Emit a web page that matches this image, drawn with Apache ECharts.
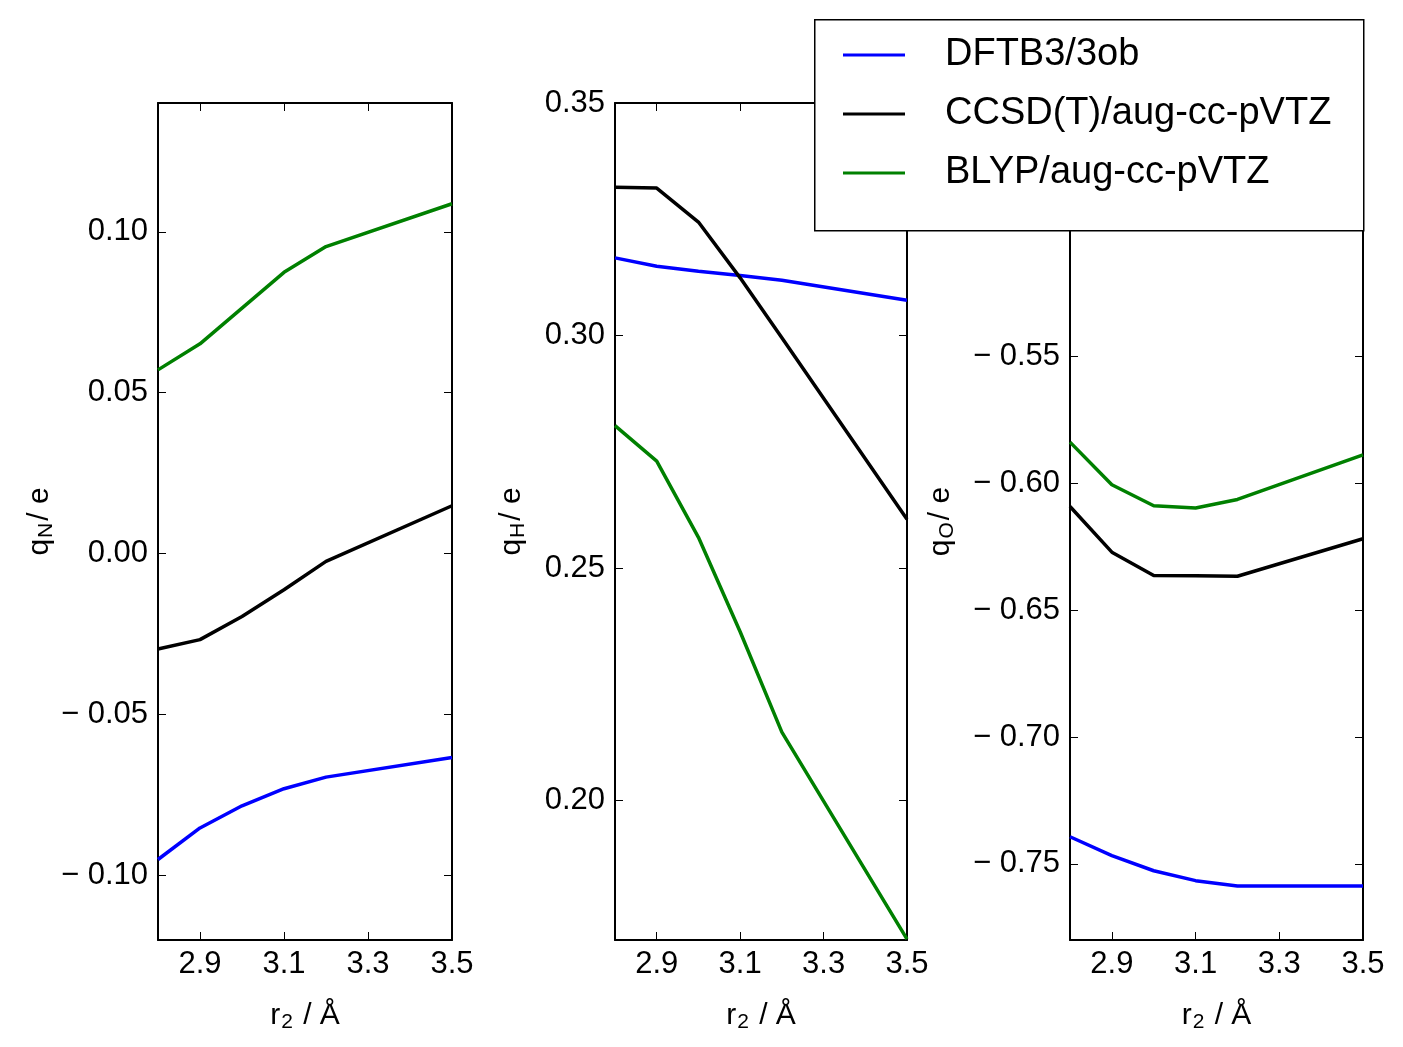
<!DOCTYPE html>
<html>
<head>
<meta charset="utf-8">
<script src="https://cdn.jsdelivr.net/npm/echarts@6/dist/echarts.min.js"></script>
<style>
  html, body { margin: 0; padding: 0; background: #fff; }
  #container { width: 1403px; height: 1047px; }
</style>
</head>
<body>
<div id="container"></div>
<script>
// r2 distance (Angstrom)
var r2 = [2.8, 2.9, 3.0, 3.1, 3.2, 3.5];

// charges on N
var qN_dftb = [-0.0950, -0.0852, -0.0783, -0.0730, -0.0694, -0.0633];
var qN_ccsd = [-0.0296, -0.0267, -0.0195, -0.0112, -0.0024, 0.0149];
var qN_blyp = [0.0571, 0.0652, 0.0763, 0.0874, 0.0954, 0.1087];

// charges on H
var qH_dftb = [0.3167, 0.3149, 0.3138, 0.3129, 0.3119, 0.3076];
var qH_ccsd = [0.3319, 0.3317, 0.3244, 0.3124, 0.2995, 0.2605];
var qH_blyp = [0.2806, 0.2730, 0.2566, 0.2363, 0.2147, 0.1702];

// charges on O
var qO_dftb = [-0.7393, -0.7467, -0.7527, -0.7566, -0.7587, -0.7587];
var qO_ccsd = [-0.6091, -0.6271, -0.6363, -0.6364, -0.6366, -0.6218];
var qO_blyp = [-0.5837, -0.6005, -0.6088, -0.6097, -0.6063, -0.5887];

var methods = ['DFTB3/3ob', 'CCSD(T)/aug-cc-pVTZ', 'BLYP/aug-cc-pVTZ'];
var colors = ['#0000ff', '#000000', '#008000'];

var xTicks = [2.9, 3.1, 3.3, 3.5];
var yTicksN = [-0.10, -0.05, 0.00, 0.05, 0.10];
var yTicksH = [0.20, 0.25, 0.30, 0.35];
var yTicksO = [-0.75, -0.70, -0.65, -0.60, -0.55];

var FONT = 'Liberation Sans, Arial, Helvetica, sans-serif';

function fmt(v) {
  var s = Math.abs(v).toFixed(2);
  return v < -1e-9 ? '\u2212 ' + s : s;
}

function zip(xs, ys) {
  return xs.map(function (x, i) { return [x, ys[i]]; });
}

var nameRich = {
  m: { fontFamily: FONT, fontSize: 30, color: '#000', lineHeight: 32, verticalAlign: 'top' },
  s: { fontFamily: FONT, fontSize: 21, color: '#000', lineHeight: 21, verticalAlign: 'bottom', padding: [27, 2, 0, 1] }
};

function initChart() {
  var myChart = echarts.init(document.getElementById('container'));
  var panels = [
    { left: 158, right: 951, ymin: -0.12, ymax: 0.14, ticks: yTicksN, name: '{m|q}{s|N}{m|/ e}', gap: 98, data: [qN_dftb, qN_ccsd, qN_blyp] },
    { left: 615, right: 496, ymin: 0.17, ymax: 0.35, ticks: yTicksH, name: '{m|q}{s|H}{m|/ e}', gap: 86, data: [qH_dftb, qH_ccsd, qH_blyp] },
    { left: 1070, right: 40, ymin: -0.78, ymax: -0.45, ticks: yTicksO, name: '{m|q}{s|O}{m|/ e}', gap: 112, data: [qO_dftb, qO_ccsd, qO_blyp] }
  ];

  var grid = [], xAxis = [], yAxis = [], series = [];
  var axisLine = { show: true, onZero: false, lineStyle: { color: '#000', width: 2 } };
  panels.forEach(function (p, i) {
    grid.push({ left: p.left, right: p.right, top: 103, bottom: 107 });
    // bottom x axis
    xAxis.push({
      type: 'value', gridIndex: i, min: 2.8, max: 3.5, position: 'bottom',
      axisLine: axisLine,
      axisTick: { show: true, inside: true, length: 8, customValues: xTicks, lineStyle: { color: '#000', width: 1 } },
      axisLabel: { show: true, customValues: xTicks, margin: 9, fontFamily: FONT, fontSize: 31, color: '#000',
        formatter: function (v) { return v.toFixed(1); } },
      splitLine: { show: false },
      name: '{m|r}{s|2}{m| / \u00c5}', nameLocation: 'middle', nameGap: 42,
      nameTextStyle: { rich: nameRich }
    });
    // top frame
    xAxis.push({
      type: 'value', gridIndex: i, min: 2.8, max: 3.5, position: 'top',
      axisLine: axisLine,
      axisTick: { show: true, inside: true, length: 8, customValues: xTicks, lineStyle: { color: '#000', width: 1 } },
      axisLabel: { show: false }, splitLine: { show: false }
    });
    yAxis.push({
      type: 'value', gridIndex: i, min: p.ymin, max: p.ymax, position: 'left',
      axisLine: axisLine,
      axisTick: { show: true, inside: true, length: 8, customValues: p.ticks, lineStyle: { color: '#000', width: 1 } },
      axisLabel: { show: true, customValues: p.ticks, margin: 10, fontFamily: FONT, fontSize: 31, color: '#000', formatter: fmt },
      splitLine: { show: false },
      name: p.name, nameLocation: 'middle', nameRotate: 90, nameGap: p.gap,
      nameTextStyle: { rich: nameRich }
    });
    yAxis.push({
      type: 'value', gridIndex: i, min: p.ymin, max: p.ymax, position: 'right',
      axisLine: axisLine,
      axisTick: { show: true, inside: true, length: 8, customValues: p.ticks, lineStyle: { color: '#000', width: 1 } },
      axisLabel: { show: false }, splitLine: { show: false }
    });
    p.data.forEach(function (d, k) {
      series.push({
        type: 'line', name: methods[k],
        xAxisIndex: i * 2, yAxisIndex: i * 2,
        data: zip(r2, d),
        showSymbol: false, symbol: 'none', animation: false,
        lineStyle: { color: colors[k], width: 3.5 },
        itemStyle: { color: colors[k] },
        z: 3
      });
    });
  });

  var option = {
    backgroundColor: '#fff',
    animation: false,
    grid: grid,
    xAxis: xAxis,
    yAxis: yAxis,
    legend: {
      data: methods,
      orient: 'vertical',
      left: 838, top: 31,
      icon: 'rect', itemWidth: 62, itemHeight: 3,
      itemGap: 21,
      selectedMode: false,
      textStyle: { fontFamily: FONT, fontSize: 38, color: '#000', padding: [0, 0, 0, 35] },
      z: 20
    },
    graphic: [{
      type: 'rect', left: 814, top: 19, z: 15,
      shape: { width: 549, height: 211 },
      style: { fill: '#fff', stroke: '#000', lineWidth: 1.5 }
    }],
    series: series
  };
  myChart.setOption(option);
}

initChart();
</script>
</body>
</html>
